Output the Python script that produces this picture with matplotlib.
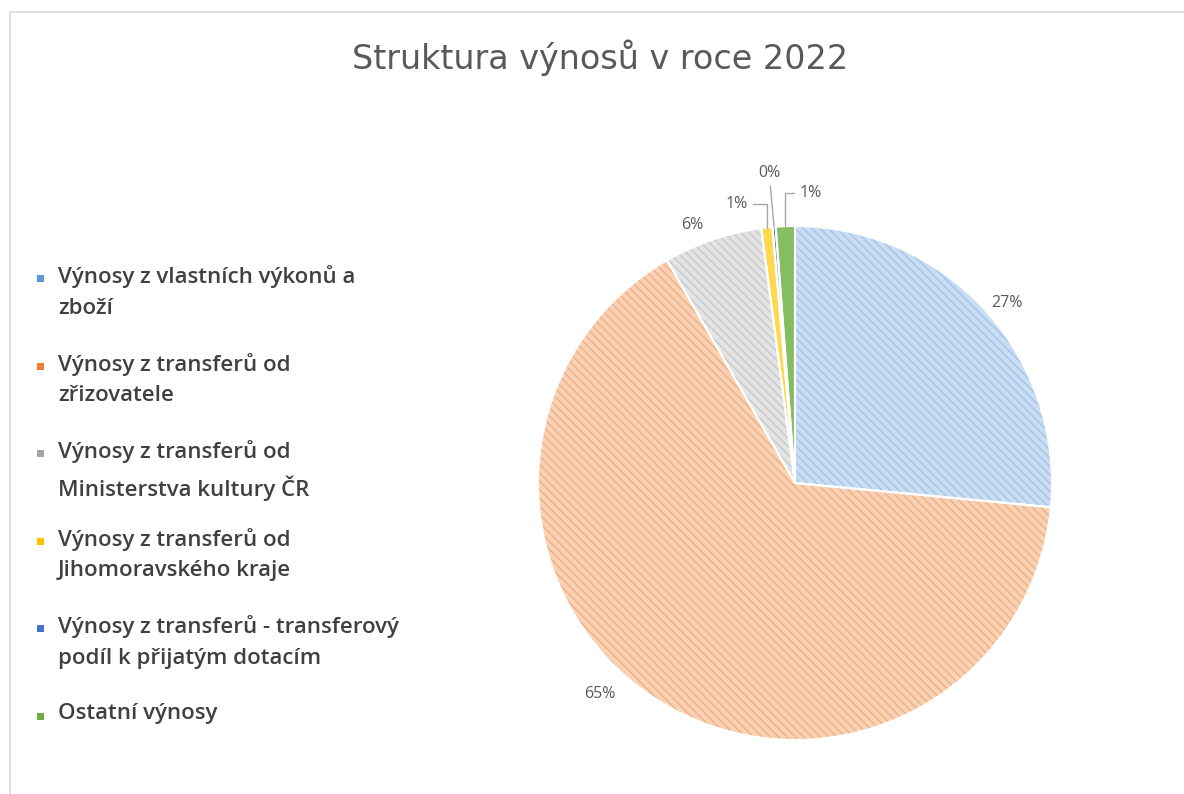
import matplotlib.pyplot as plt
from matplotlib.patches import Rectangle
import numpy as np

# data
categories = [
    "Výnosy z vlastních výkonů a\nzboží",
    "Výnosy z transferů od\nzřizovatele",
    "Výnosy z transferů od\nMinisterstva kultury ČR",
    "Výnosy z transferů od\nJihomoravského kraje",
    "Výnosy z transferů - transferový\npodíl k přijatým dotacím",
    "Ostatní výnosy",
]
values = [26.5, 65.2, 6.2, 0.7, 0.2, 1.2]
pct_labels = ["27%", "65%", "6%", "1%", "0%", "1%"]

base_colors = ["#5B9BD5", "#ED7D31", "#A5A5A5", "#FFC000", "#4472C4", "#70AD47"]
face_colors = ["#c9ddf3", "#f9d2b5", "#e4e4e4", "#ffd84d", "#4472C4", "#86bc62"]
hatch_colors = ["#a4c4e8", "#f1ae82", "#c8c8c8", "#ffc000", "#4472C4", "#70AD47"]

plt.rcParams['font.family'] = ['Open Sans', 'DejaVu Sans']
text_col = "#595959"

fig = plt.figure(figsize=(11.84, 7.94), dpi=100)
W, H = 1184, 794

# chart frame
fig.patches.append(Rectangle((10 / W, -0.01), 1.02, 1 - 12 / H + 0.01, transform=fig.transFigure,
                             fill=False, edgecolor="#d9d9d9", linewidth=1.2))

fig.text(600 / W, 1 - 58 / H, "Struktura výnosů v roce 2022", ha="center", va="center",
         fontsize=24, color=text_col, family=['DejaVu Sans'])

# pie axes
cx, cy, r = 795, 483, 257
ax = fig.add_axes([(cx - r) / W, (H - cy - r) / H, 2 * r / W, 2 * r / H])

# hatched fill
wedges, _ = ax.pie(values, startangle=90, counterclock=False, colors=face_colors,
                   wedgeprops=dict(linewidth=0))
for w, hc, v in zip(wedges, hatch_colors, values):
    if v > 2:
        w.set_hatch("\\\\\\\\")
    w.set_edgecolor(hc)
    w.set_linewidth(0)
# white borders on top
border, _ = ax.pie(values, startangle=90, counterclock=False,
                   wedgeprops=dict(fill=False, edgecolor="white", linewidth=1.5))
ax.set_xlim(-1, 1)
ax.set_ylim(-1, 1)
ax.set_aspect("equal")
ax.axis("off")

# data labels
label_dist = [1.08, 1.12, 1.08]
angle_shift = [-2, -10, 3]
for i, w in enumerate(wedges):
    mid = (w.theta1 + w.theta2) / 2
    if i < 3:
        a = np.deg2rad(mid + angle_shift[i])
        ax.text(label_dist[i] * np.cos(a), label_dist[i] * np.sin(a), pct_labels[i],
                ha="center", va="center", fontsize=11.5, color=text_col)

offsets = {3: (-22, 17), 4: (-3, 39), 5: (18, 24)}
relpos = {3: (1, 0.5), 4: (0.5, 0), 5: (0, 0.5)}
conn = {3: "angle,angleA=0,angleB=90,rad=0", 4: "arc3", 5: "angle,angleA=0,angleB=90,rad=0"}
for i in (3, 4, 5):
    w = wedges[i]
    mid = np.deg2rad((w.theta1 + w.theta2) / 2)
    ax.annotate(pct_labels[i], xy=(np.cos(mid), np.sin(mid)), xytext=offsets[i],
                textcoords="offset points", ha="center", va="center",
                fontsize=11.5, color=text_col,
                arrowprops=dict(arrowstyle="-", color="#a6a6a6", lw=1,
                                connectionstyle=conn[i], relpos=relpos[i],
                                shrinkA=2, shrinkB=0))

# legend
for i, (lab, col) in enumerate(zip(categories, base_colors)):
    y = 278 + i * 87.6
    fig.patches.append(Rectangle((37 / W, 1 - (y + 4) / H), 7 / W, 7 / H,
                                 transform=fig.transFigure, facecolor=col, edgecolor="none"))
    fig.text(58 / W, 1 - (y - 13) / H, lab, ha="left", va="top", fontsize=16,
             fontweight="semibold", color="#404040", linespacing=1.6)

plt.savefig("out.png", dpi=100)
